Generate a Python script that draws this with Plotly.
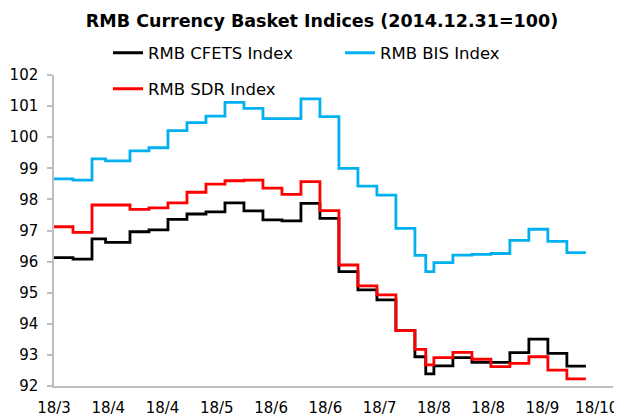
import plotly.graph_objects as go
import pandas as pd

# ---- data (weekly fixes, value in effect from each date) ----
dates = ['2018-03-16', '2018-03-23', '2018-03-30', '2018-04-04', '2018-04-13',
         '2018-04-20', '2018-04-27', '2018-05-04', '2018-05-11', '2018-05-18',
         '2018-05-25', '2018-06-01', '2018-06-08', '2018-06-15', '2018-06-22',
         '2018-06-29', '2018-07-06', '2018-07-13', '2018-07-20', '2018-07-27',
         '2018-07-31', '2018-08-03', '2018-08-10', '2018-08-17', '2018-08-24',
         '2018-08-31', '2018-09-07', '2018-09-14', '2018-09-21', '2018-09-28']

cfets = [96.13, 96.08, 96.73, 96.62, 96.96, 97.02, 97.36, 97.53, 97.60, 97.89,
         97.63, 97.34, 97.31, 97.87, 97.39, 95.68, 95.09, 94.77, 93.78, 92.94,
         92.39, 92.65, 92.91, 92.76, 92.76, 93.07, 93.51, 93.05, 92.64, 92.64]

bis = [98.66, 98.62, 99.30, 99.24, 99.56, 99.66, 100.21, 100.47, 100.68, 101.12,
       100.93, 100.60, 100.60, 101.23, 100.66, 99.00, 98.43, 98.14, 97.07, 96.20,
       95.68, 95.97, 96.21, 96.23, 96.26, 96.68, 97.04, 96.65, 96.29, 96.29]

sdr = [97.12, 96.94, 97.82, 97.82, 97.68, 97.73, 97.89, 98.23, 98.49, 98.60,
       98.62, 98.36, 98.16, 98.57, 97.64, 95.89, 95.22, 94.93, 93.78, 93.18,
       92.68, 92.91, 93.08, 92.86, 92.62, 92.73, 92.94, 92.51, 92.23, 92.23]

tick_labels = ['18/3', '18/4', '18/4', '18/5', '18/6', '18/6',
               '18/7', '18/8', '18/8', '18/9', '18/10']

series_names = ['RMB CFETS Index', 'RMB BIS Index', 'RMB SDR Index']
series_colors = ['#000000', '#00B0F0', '#FF0000']

# ---- layout helpers ----
# the page body adds an 8px margin, so the figure is drawn 8px in from the
# window's top-left corner; size and place everything accordingly
OFF = 8
W, H = 622 - OFF, 416 - OFF
ML, MR, MT, MB = 54 - OFF, 9, 75 - OFF, 30


def cx(px):
    return (px - OFF) / W


def cy(py):
    return 1 - (py - OFF) / H


axis_start = pd.Timestamp(dates[0])
tick_vals = [axis_start + pd.Timedelta(days=20 * i) for i in range(len(tick_labels))]
axis_end = axis_start + pd.Timedelta(days=206)

FONT = 'DejaVu Sans'

fig = go.Figure()
legend_ids = ['legend', 'legend2', 'legend3']
for name, vals, col, lg in zip(series_names, [cfets, bis, sdr], series_colors, legend_ids):
    fig.add_trace(go.Scatter(
        x=dates, y=vals, mode='lines', name=name,
        line=dict(color=col, width=2.8, shape='hv'),
        legend=lg, showlegend=True,
    ))

legend_base = dict(
    font=dict(family=FONT, size=16.5, color='#000000'),
    bgcolor='rgba(0,0,0,0)', borderwidth=0,
    xref='container', yref='container',
    xanchor='left', yanchor='middle', itemwidth=30,
    orientation='h',
)

fig.update_layout(
    width=W, height=H,
    showlegend=True,
    margin=dict(l=ML, r=MR, t=MT, b=MB, autoexpand=False),
    paper_bgcolor='white', plot_bgcolor='white',
    title=dict(
        text='<b>RMB Currency Basket Indices (2014.12.31=100)</b>',
        font=dict(family=FONT, size=17.5, color='#000000'),
        xref='container', yref='container',
        x=cx(322), xanchor='center', y=cy(21), yanchor='middle',
    ),
    legend=dict(legend_base, x=cx(108), y=cy(53)),
    legend2=dict(legend_base, x=cx(340), y=cy(53)),
    legend3=dict(legend_base, x=cx(108), y=cy(89)),
    xaxis=dict(
        type='date', range=[axis_start, axis_end],
        tickvals=tick_vals, ticktext=tick_labels,
        showline=True, linecolor='#BFBFBF', linewidth=1.5,
        ticks='', showgrid=False, zeroline=False,
        tickfont=dict(family=FONT, size=15, color='#000000'),
        ticklabelstandoff=7,
    ),
    yaxis=dict(
        range=[92, 102], dtick=1, tick0=92,
        showline=True, linecolor='#BFBFBF', linewidth=1.5,
        ticks='outside', ticklen=5, tickcolor='#BFBFBF', tickwidth=1.5,
        showgrid=False, zeroline=False,
        tickfont=dict(family=FONT, size=15, color='#000000'),
        ticklabelstandoff=6,
    ),
)

fig.write_html('out.html')
